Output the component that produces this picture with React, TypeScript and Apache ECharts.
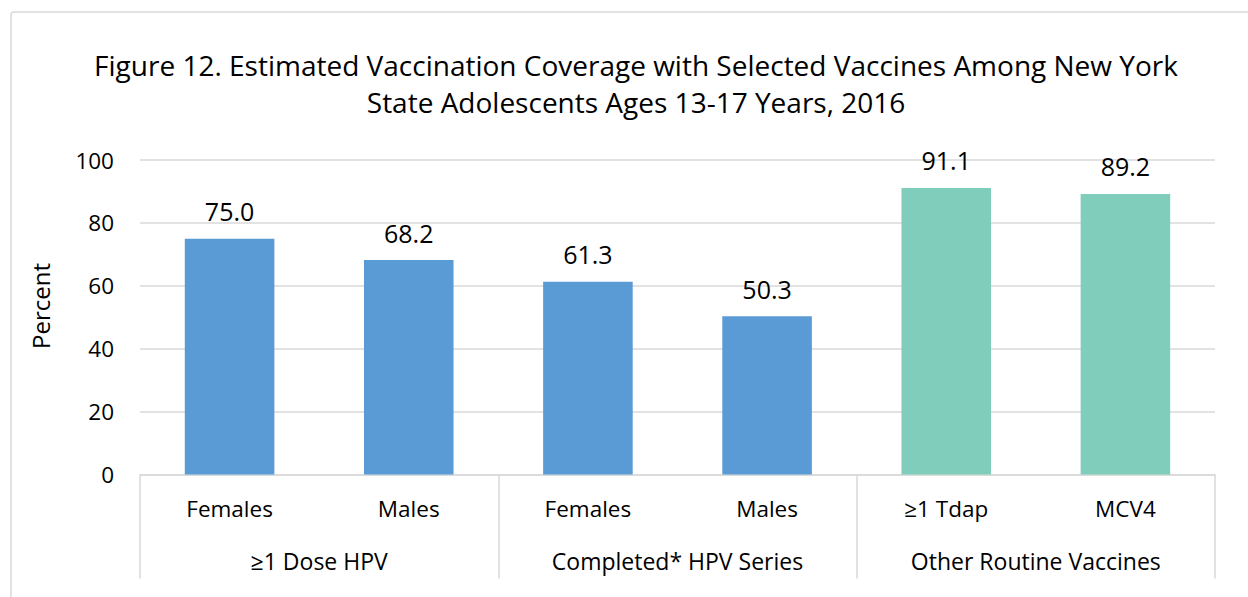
import React, { useEffect, useRef } from "react";
import * as echarts from "echarts";

const categories = ["Females", "Males", "Females", "Males", "≥1 Tdap", "MCV4"];
const groups = ["≥1 Dose HPV", "Completed* HPV Series", "Other Routine Vaccines"];
const values = [75.0, 68.2, 61.3, 50.3, 91.1, 89.2];
const barColors = ["#5B9BD5", "#5B9BD5", "#5B9BD5", "#5B9BD5", "#80CDBC", "#80CDBC"];
const titleLines = [
  "Figure 12. Estimated Vaccination Coverage with Selected Vaccines Among New York",
  "State Adolescents Ages 13-17 Years, 2016",
];
const yAxisTitle = "Percent";
const FONT = "'Open Sans', 'Noto Sans', sans-serif";

export default function App() {
  const ref = useRef<HTMLDivElement>(null);
  useEffect(() => {
    document.body.style.margin = "0";
    const chart = echarts.init(ref.current!, null, { renderer: "svg" });
    chart.setOption({
      animation: false,
      backgroundColor: "#fff",
      textStyle: { fontFamily: FONT },
      graphic: [
        {
          type: "rect",
          shape: { x: 11, y: 12, width: 1260, height: 620, r: 3 },
          style: { fill: "none", stroke: "#d9d9d9", lineWidth: 1.5 },
          silent: true,
        },
        {
          type: "text",
          x: 636,
          y: 46,
          style: {
            text: titleLines.join("\n"),
            fontSize: 28,
            lineHeight: 37,
            fontFamily: FONT,
            fill: "#000",
            textAlign: "center",
          },
        },
        {
          type: "text",
          x: 40,
          y: 306,
          rotation: Math.PI / 2,
          style: {
            text: yAxisTitle,
            fontSize: 24,
            fontFamily: FONT,
            fill: "#000",
            textAlign: "center",
            textVerticalAlign: "middle",
          },
        },
      ],
      grid: { left: 140, right: 33, top: 160, bottom: 122.5 },
      xAxis: [
        {
          type: "category",
          data: categories,
          axisLine: { show: true, lineStyle: { color: "#d9d9d9", width: 1.5 } },
          axisTick: { show: false },
          axisLabel: { fontSize: 22.5, color: "#000", margin: 22, fontFamily: FONT },
        },
        {
          type: "category",
          data: groups,
          position: "bottom",
          axisLine: { show: false },
          axisTick: { show: true, length: 104, lineStyle: { color: "#d9d9d9", width: 1.5 } },
          axisLabel: { fontSize: 23, color: "#000", margin: 75, fontFamily: FONT },
        },
      ],
      yAxis: {
        type: "value",
        min: 0,
        max: 100,
        interval: 20,
        axisLine: { show: false },
        axisTick: { show: false },
        axisLabel: { fontSize: 22.5, color: "#000", margin: 26, fontFamily: FONT },
        splitLine: { lineStyle: { color: "#d9d9d9", width: 1.5 } },
      },
      series: [
        {
          type: "bar",
          xAxisIndex: 0,
          barWidth: "50%",
          data: values.map((v, i) => ({ value: v, itemStyle: { color: barColors[i] } })),
          label: {
            show: true,
            position: "top",
            distance: 15,
            fontSize: 25,
            color: "#000",
            fontFamily: FONT,
            formatter: (p: any) => Number(p.value).toFixed(1),
          },
        },
      ],
    });
    return () => chart.dispose();
  }, []);
  return <div ref={ref} style={{ width: 1248, height: 597 }} />;
}
